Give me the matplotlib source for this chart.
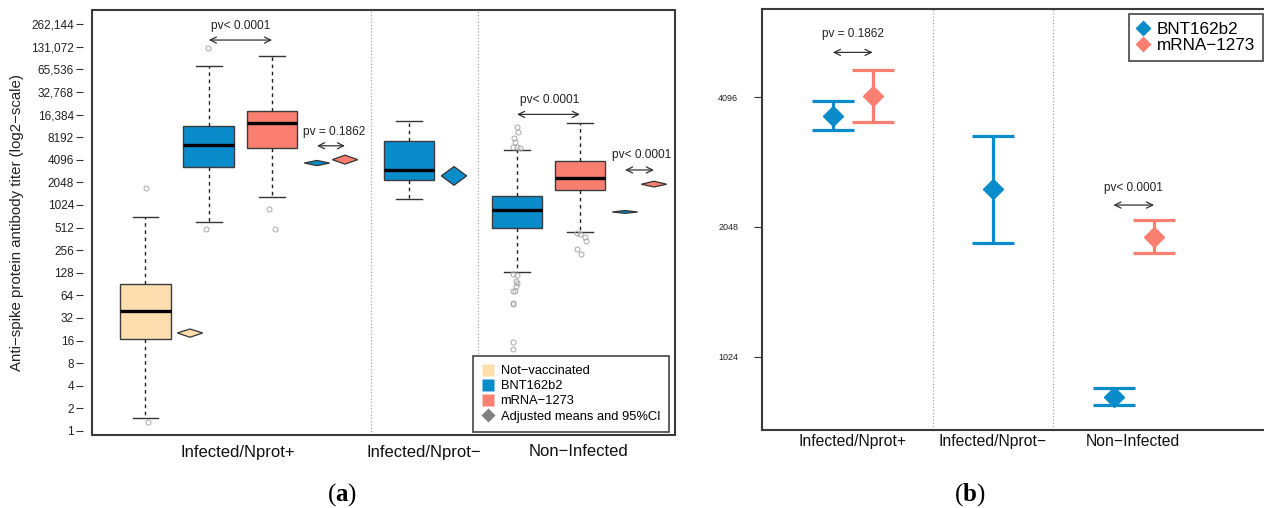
import numpy as np
import matplotlib
matplotlib.use("Agg")
import matplotlib.pyplot as plt
from matplotlib.patches import Rectangle, Polygon
from matplotlib.lines import Line2D
import matplotlib.transforms as mtransforms

plt.rcParams['font.family'] = ['Liberation Sans', 'DejaVu Sans']
plt.rcParams['mathtext.fontset'] = 'custom'
plt.rcParams['mathtext.rm'] = 'Liberation Serif'
plt.rcParams['mathtext.bf'] = 'Liberation Serif:bold'

M = "\u2212"
# ---------------- data: panel (a) boxplots ----------------
box_vaccine = ["NV", "BNT", "MOD", "BNT", "BNT", "MOD"]
box_q1 = [16.7, 3310, 5940, 2180, 511, 1607]
box_med = [39.7, 6510, 12520, 2995, 872, 2320]
box_q3 = [90, 11570, 18300, 7290, 1362, 3950]
box_wlo = [1.5, 603, 1296, 1243, 130, 443]
box_whi = [709, 73300, 98900, 13480, 5580, 12650]
out_nv = [1710, 1.3]
out_bnt_pos = [127500, 490]
out_mod_pos = [906, 490]
out_bnt_neg = []
out_bnt_ni = [11190, 9540, 7910, 6980, 6120, 6120, 5950,
              122, 119.6, 100.6, 94.4, 85.4, 73, 73, 51.2, 48.8, 15.5, 12.5]
out_mod_ni = [430, 416, 388, 343, 263, 228]
outliers = [out_nv, out_bnt_pos, out_mod_pos, out_bnt_neg, out_bnt_ni, out_mod_ni]
# small horizontal scatter of the outlier circles (px in the original)
off_px = [[0.5, 2.5], [-1, -3], [-3, 3], [],
          [-0.3, 0.7, -3, -1.7, -3.7, 0, 3.3, -3.7, 0, -1.3, -0.3, -1.3, -3.7, -2, -4, -4.3, -4.3, -4.3],
          [-3.3, 0, 5, 5.7, -3.3, 1]]

# adjusted means and 95% CI
adj_vaccine = ["NV", "BNT", "MOD", "BNT", "BNT", "MOD"]
adj_mean = [20.2, 3707, 4110, 2502, 826, 1936]
adj_lo = [17.7, 3428, 3590, 1875, 793, 1778]
adj_hi = [22.8, 4015, 4723, 3332, 865, 2120]

groups = ["Infected/Nprot+", "Infected/Nprot" + M, "Non" + M + "Infected"]
ytick_vals = [2 ** k for k in range(0, 19)]
ytick_labels = ["1", "2", "4", "8", "16", "32", "64", "128", "256", "512", "1024", "2048",
                "4096", "8192", "16,384", "32,768", "65,536", "131,072", "262,144"]
pv_labels_a = ["pv< 0.0001", "pv = 0.1862", "pv< 0.0001", "pv< 0.0001"]

# panel (b) : adjusted means (without not-vaccinated)
b_vaccine = ["BNT", "MOD", "BNT", "BNT", "MOD"]
b_group = [0, 0, 1, 2, 2]
b_mean = adj_mean[1:]
b_lo = adj_lo[1:]
b_hi = adj_hi[1:]
b_yticks = [1024, 2048, 4096]
pv_labels_b = ["pv = 0.1862", "pv< 0.0001"]

colors = {"NV": "#FEDDAE", "BNT": "#0A8CCB", "MOD": "#FA7F70"}
legend_names = {"NV": "Not" + M + "vaccinated", "BNT": "BNT162b2", "MOD": "mRNA" + M + "1273"}

W, H = 1264, 508
fig = plt.figure(figsize=(W / 100, H / 100), dpi=100)

# ---------------- panel (a) ----------------
ax = fig.add_axes([92 / W, (H - 435) / H, 583 / W, 425 / H])
ax.set_yscale("log", base=2)
ax.set_ylim(2 ** -0.18, 2 ** 18.63)
ax.set_xlim(0.155, 9.365)
unit = 63.3

box_pos = [1.0, 2.0, 3.0, 5.163, 6.869, 7.864]
adj_pos = [1.703, 3.709, 4.152, 5.874, 8.575, 9.033]
dividers_a = [4.562, 6.253]
group_lab_a = [2.461, 5.40, 7.833]

for xd in dividers_a:
    ax.axvline(xd, color="#a8a8a8", lw=0.9, ls=(0, (1, 1.6)), zorder=1)

stats = []
for i in range(len(box_med)):
    stats.append(dict(med=box_med[i], q1=box_q1[i], q3=box_q3[i],
                      whislo=box_wlo[i], whishi=box_whi[i], fliers=[]))
bp = ax.bxp(stats, positions=box_pos, widths=0.8, capwidths=0.41, patch_artist=True,
            showfliers=False, manage_ticks=False,
            boxprops=dict(edgecolor="#3c3c3c", linewidth=1.0),
            whiskerprops=dict(color="#222222", linewidth=1.0, linestyle=(0, (2.6, 2.6))),
            capprops=dict(color="#333333", linewidth=1.0),
            medianprops=dict(color="black", linewidth=2.4, solid_capstyle="butt"))
for patch, v in zip(bp["boxes"], box_vaccine):
    patch.set_facecolor(colors[v])

for i, vals in enumerate(outliers):
    if not vals:
        continue
    xs = [box_pos[i] + o / unit for o in off_px[i]]
    ax.plot(xs, vals, ls="", marker="o", ms=3.6, mfc="none", mec="#aaaaaa", mew=0.7, zorder=3)

for i in range(len(adj_mean)):
    x = adj_pos[i]
    poly = Polygon([(x - 0.2, adj_mean[i]), (x, adj_hi[i]), (x + 0.2, adj_mean[i]), (x, adj_lo[i])],
                   closed=True, facecolor=colors[adj_vaccine[i]], edgecolor="#333333", lw=0.9, zorder=4)
    ax.add_patch(poly)

# p-value arrows & labels (panel a)
arrows_a = [(2.0, 3.0, 2 ** 17.30, 240.5, 2 ** 17.93),
            (3.709, 4.152, 2 ** 12.62, 334, 2 ** 13.22),
            (6.869, 7.864, 2 ** 14.01, 550, 2 ** 14.65),
            (8.575, 9.033, 2 ** 11.55, 642, 2 ** 12.20)]
for (x0, x1, ya, tx_px, yt), lab in zip(arrows_a, pv_labels_a):
    ax.annotate("", xy=(x0, ya), xytext=(x1, ya),
                arrowprops=dict(arrowstyle="<->,head_length=0.45,head_width=0.22", color="#333333", lw=0.9,
                                shrinkA=0, shrinkB=0))
    tx = 1 + (tx_px - 145.5) / unit
    ax.text(tx, yt, lab, ha="center", va="center", fontsize=8.6, color="#222222")

ax.set_xticks([])
ax.set_yticks(ytick_vals)
ax.set_yticklabels(ytick_labels)
ax.yaxis.set_minor_locator(matplotlib.ticker.NullLocator())
for s in ax.spines.values():
    s.set_visible(False)
ax.spines["left"].set_position(("outward", 6.5))
ax.tick_params(axis="y", length=5, width=0.8, color="#333333", pad=1.5, labelsize=8.5, labelcolor="#222222")
ax.add_patch(Rectangle((0, 0), 1, 1, transform=ax.transAxes, fill=False, edgecolor="#3a3a3a",
                       lw=1.5, clip_on=False, zorder=10))
trans_a = mtransforms.blended_transform_factory(ax.transData, ax.transAxes)
for xg, g in zip(group_lab_a, groups):
    ax.text(xg, -0.04, g, transform=trans_a, ha="center", va="center", fontsize=12, color="#111111")

handles_a = [Line2D([], [], ls="", marker="s", ms=8, mfc=colors[v], mec="none", label=legend_names[v])
             for v in ["NV", "BNT", "MOD"]]
handles_a.append(Line2D([], [], ls="", marker="D", ms=6.8, mfc="#808080", mec="none",
                        label="Adjusted means and 95%CI"))
leg = ax.legend(handles=handles_a, loc="lower right", bbox_to_anchor=(0.990, 0.008), fontsize=9.3,
                frameon=True, fancybox=False, framealpha=1, edgecolor="#444444", borderpad=0.7,
                handlelength=1.0, handletextpad=0.45, labelspacing=0.24, borderaxespad=0)
leg.get_frame().set_linewidth(1.2)

fig.text(17.5 / W, 1 - 222.5 / H, "Anti" + M + "spike protein antibody titer (log2" + M + "scale)",
         rotation=90, ha="center", va="center", fontsize=10.8, color="#222222")

# ---------------- panel (b) ----------------
bx = fig.add_axes([761.7 / W, (H - 430) / H, (W - 761.7) / W, 420.7 / H])
bx.set_yscale("log", base=2)
bx.set_ylim(2 ** 9.435, 2 ** 12.676)
bx.set_xlim(0.352, 3.927)
dividers_b = [1.574, 2.428]
for xd in dividers_b:
    bx.axvline(xd, color="#a8a8a8", lw=0.9, ls=(0, (1, 1.6)), zorder=1)

b_offset = {"BNT": -0.142, "MOD": 0.142}
for i in range(len(b_mean)):
    v = b_vaccine[i]
    g = b_group[i]
    x = g + 1 + (0 if g == 1 else b_offset[v])
    bx.errorbar([x], [b_mean[i]], yerr=[[b_mean[i] - b_lo[i]], [b_hi[i] - b_mean[i]]],
                fmt="D", ms=10, color=colors[v], ecolor=colors[v], elinewidth=2.3,
                capsize=14.8, capthick=2.3, zorder=3)

arrows_b = [(0.858, 1.142, 2 ** 12.344, 2 ** 12.483), (2.855, 3.145, 2 ** 11.168, 2 ** 11.297)]
for (x0, x1, ya, yt), lab in zip(arrows_b, pv_labels_b):
    bx.annotate("", xy=(x0, ya), xytext=(x1, ya),
                arrowprops=dict(arrowstyle="<->,head_length=0.45,head_width=0.22", color="#333333", lw=0.9,
                                shrinkA=0, shrinkB=0))
    bx.text((x0 + x1) / 2, yt, lab, ha="center", va="center", fontsize=8.5, color="#222222")

bx.set_xticks([])
bx.set_yticks(b_yticks)
bx.set_yticklabels([str(v) for v in b_yticks])
bx.yaxis.set_minor_locator(matplotlib.ticker.NullLocator())
bx.tick_params(axis="y", length=5.8, width=0.8, color="#333333", pad=11, labelsize=6.5, labelcolor="#222222")
bx.spines["right"].set_visible(False)
for s in ["left", "top", "bottom"]:
    bx.spines[s].set_linewidth(1.5)
    bx.spines[s].set_color("#3a3a3a")
trans_b = mtransforms.blended_transform_factory(bx.transData, bx.transAxes)
for k, g in enumerate(groups):
    bx.text(k + 1 - 0.005, -0.028, g, transform=trans_b, ha="center", va="center", fontsize=11.3,
            color="#111111")

handles_b = [Line2D([], [], ls="", marker="D", ms=8.5, mfc=colors[v], mec="none", label=legend_names[v])
             for v in ["BNT", "MOD"]]
legb = bx.legend(handles=handles_b, loc="upper right", bbox_to_anchor=(0.998, 0.989), fontsize=12.3,
                 frameon=True, fancybox=False, framealpha=1, edgecolor="#444444", borderpad=0.45,
                 handlelength=0.8, handletextpad=0.4, labelspacing=0.1, borderaxespad=0)
legb.get_frame().set_linewidth(1.2)

# panel letters
fig.text(341.7 / W, 1 - 495 / H, r"($\mathbf{a}$)", ha="center", va="center", fontsize=18,
         family="Liberation Serif")
fig.text(970 / W, 1 - 495 / H, r"($\mathbf{b}$)", ha="center", va="center", fontsize=18,
         family="Liberation Serif")

fig.savefig("out.png", dpi=100)
